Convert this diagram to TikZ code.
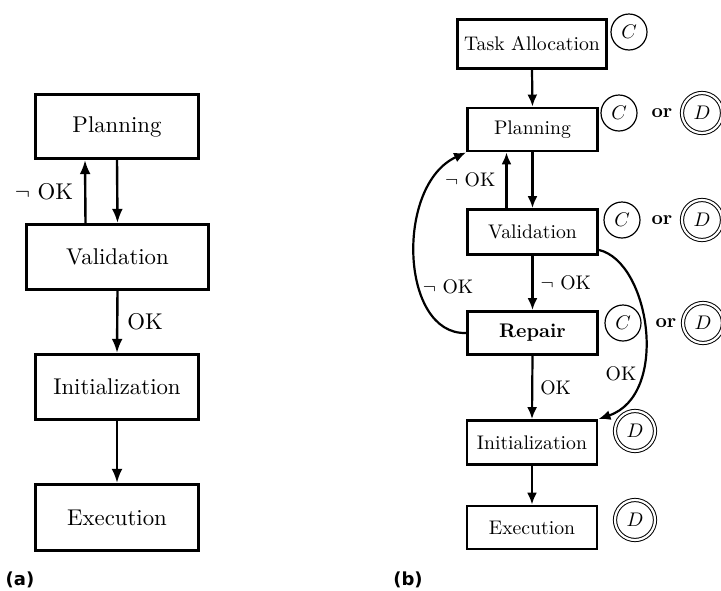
\documentclass[tikz,border=0pt]{standalone}
\usepackage{fontspec}
\usepackage{graphicx}
\newfontfamily\capfont{DejaVu Sans}
\usetikzlibrary{arrows.meta}
\newcommand\txa[1]{\scalebox{2.28}{#1}}
\newcommand\txb[1]{\scalebox{1.97}{#1}}
\begin{document}
\begin{tikzpicture}[x=1pt,y=-1pt,
  boxa/.style={draw, line width=3.3pt, inner sep=0pt},
  boxb/.style={draw, line width=2.9pt, inner sep=0pt, minimum width=130pt, minimum height=43pt},
  arra/.style={line width=2.4pt, -{Latex[length=14pt,width=11pt]}},
  arrb/.style={line width=2.2pt, -{Latex[length=12pt,width=10pt]}},
  lbl/.style={inner sep=0pt},
  cbub/.style={circle, draw, line width=1.2pt, minimum size=36pt, inner sep=0pt},
  dbub/.style={circle, draw, double, line width=1pt, double distance=2.2pt, minimum size=40pt, inner sep=0pt},
  capl/.style={inner sep=0pt, font=\capfont\bfseries\fontsize{18}{21}\selectfont}
]
\useasboundingbox (0,0) rectangle (721,590);
% (a)
\node[boxa, minimum width=163pt, minimum height=64pt] (pa) at (117,126.5) {\txa{Planning}};
\node[boxa, minimum width=182pt, minimum height=65pt] (va) at (117.5,257) {\txa{Validation}};
\node[boxa, minimum width=163pt, minimum height=65pt] (ia) at (117,387) {\txa{Initialization}};
\node[boxa, minimum width=163pt, minimum height=66pt] (ea) at (117,517.5) {\txa{Execution}};
\draw[arra] (pa.south) -- (va.north);
\draw[arra] ([xshift=-32pt]va.north) -- ([xshift=-32pt]pa.south)
  node[midway, anchor=east, lbl, xshift=-11pt] (noka) {\txa{$\neg$ OK}};
\draw[arra] (va.south) -- (ia.north)
  node[midway, anchor=west, lbl, xshift=9pt] (oka) {\txa{OK}};
\draw[arra] (ia.south) -- (ea.north);
\node[capl] (capa) at (20,580) {(a)};
% (b)
\node[boxb, minimum width=149pt, minimum height=49pt] (tb) at (532,44) {\txb{Task Allocation}};
\node[boxb] (pb) at (532.5,129.5) {\txb{Planning}};
\node[boxb, minimum height=45pt] (vb) at (532.5,232) {\txb{Validation}};
\node[boxb] (rb) at (532.5,333) {\txb{\textbf{Repair}}};
\node[boxb, minimum height=44pt] (ib) at (532,442.5) {\txb{Initialization}};
\node[boxb] (eb) at (532,527.5) {\txb{Execution}};
\draw[arrb] (tb.south) -- (pb.north);
\draw[arrb] (pb.south) -- (vb.north);
\draw[arrb] ([xshift=-26pt]vb.north) -- ([xshift=-26pt]pb.south)
  node[midway, anchor=east, lbl, xshift=-10pt] (nokb1) {\txb{$\neg$ OK}};
\draw[arrb] (vb.south) -- (rb.north)
  node[midway, anchor=west, lbl, xshift=7pt] (nokb2) {\txb{$\neg$ OK}};
\draw[arrb] (rb.south) -- (ib.north)
  node[midway, anchor=west, lbl, xshift=7pt] (okb1) {\txb{OK}};
\draw[arrb] (ib.south) -- (eb.north);
\draw[arrb] (rb.west) .. controls (400,335) and (395,185) .. (pb.south west);
\node[lbl] (nokb3) at (448,287) {\txb{$\neg$ OK}};
\draw[arrb] ([yshift=6pt]vb.south east) .. controls (650,262) and (670,395) .. (ib.north east);
\node[lbl] (okb2) at (621,374) {\txb{OK}};
% markers
\node[cbub] (ctb) at (629,32) {\txb{$C$}};
\node[cbub] (cpb) at (619,113) {\txb{$C$}};
\node[lbl] (orp) at (662,113) {\txb{\textbf{or}}};
\node[dbub] (dpb) at (702,113) {\txb{$D$}};
\node[cbub] (cvb) at (622,220) {\txb{$C$}};
\node[lbl] (orv) at (662,220) {\txb{\textbf{or}}};
\node[dbub] (dvb) at (702,220) {\txb{$D$}};
\node[cbub] (crb) at (623,323) {\txb{$C$}};
\node[lbl] (orr) at (666,323) {\txb{\textbf{or}}};
\node[dbub] (drb) at (703,323) {\txb{$D$}};
\node[dbub] (dib) at (635,431) {\txb{$D$}};
\node[dbub] (deb) at (635,520) {\txb{$D$}};
\node[capl] (capb) at (408,580) {(b)};
\end{tikzpicture}
\end{document}
